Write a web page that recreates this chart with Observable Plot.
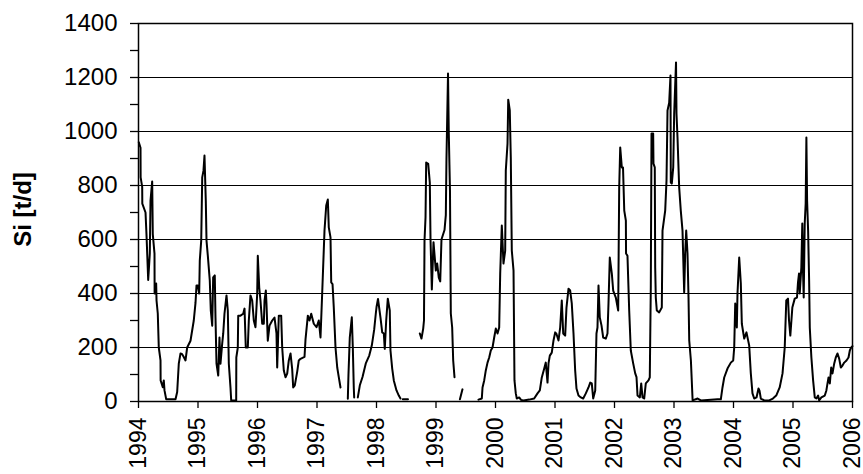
<!DOCTYPE html>
<html><head><meta charset="utf-8">
<script src="https://cdn.jsdelivr.net/npm/d3@7"></script>
<script src="https://cdn.jsdelivr.net/npm/@observablehq/plot@0.6"></script>
<style>body{margin:0;background:#fff;} svg{display:block;}</style>
</head><body><div id="chart"></div>
<script>
// decimal year of each reading (null value = gap in the record)
const time = [
1994.005,1994.034,1994.036,1994.062,1994.064,1994.118,1994.134,1994.163,1994.190,1994.202,1994.230,1994.240,1994.269,1994.271,1994.297,1994.303,1994.324,1994.341,1994.370,1994.372,1994.408,1994.425,1994.437,1994.466,1994.622,1994.650,1994.677,1994.706,1994.734,1994.761,1994.790,1994.818,1994.874,1994.929,1994.958,1994.975,1994.997,
1995.020,1995.030,1995.054,1995.071,1995.092,1995.109,1995.131,1995.143,1995.165,1995.198,1995.215,1995.239,1995.255,1995.282,1995.294,1995.311,1995.340,1995.361,1995.378,1995.407,1995.424,1995.445,1995.479,1995.501,1995.518,1995.546,1995.558,1995.642,1995.644,1995.669,1995.676,1995.714,1995.760,1995.782,1995.803,1995.837,1995.854,1995.882,1995.911,1995.938,1995.966,1995.995,
1996.005,1996.029,1996.050,1996.079,1996.106,1996.118,1996.140,1996.151,1996.173,1996.202,1996.247,1996.286,1996.319,1996.331,1996.358,1996.398,1996.415,1996.442,1996.471,1996.499,1996.526,1996.555,1996.583,1996.600,1996.627,1996.667,1996.694,1996.723,1996.790,1996.807,1996.846,1996.874,1996.903,1996.946,1996.992,
1997.030,1997.059,1997.087,1997.126,1997.155,1997.182,1997.198,1997.227,1997.239,1997.261,1997.282,1997.311,1997.340,1997.366,1997.395,1997.450,1997.518,1997.529,1997.551,1997.585,1997.602,1997.618,1997.625,1997.650,1997.686,1997.720,1997.765,1997.820,1997.878,1997.921,1997.961,1997.988,
1998.000,1998.025,1998.067,1998.096,1998.123,1998.139,1998.163,1998.190,1998.223,1998.235,1998.264,1998.291,1998.336,1998.375,1998.403,1998.420,1998.442,1998.529,1998.600,1998.728,1998.756,1998.785,1998.798,1998.807,1998.824,1998.835,1998.869,1998.896,1998.908,1998.930,1998.958,1998.997,
1999.020,1999.047,1999.071,1999.092,1999.143,1999.165,1999.176,1999.202,1999.215,1999.235,1999.249,1999.272,1999.289,1999.311,1999.350,1999.402,1999.445,1999.600,1999.714,1999.770,1999.782,1999.810,1999.837,1999.866,1999.894,1999.921,1999.950,1999.978,
2000.005,2000.034,2000.062,2000.079,2000.106,2000.134,2000.163,2000.173,2000.202,2000.214,2000.240,2000.257,2000.274,2000.303,2000.319,2000.341,2000.358,2000.398,2000.429,2000.471,2000.567,2000.650,2000.706,2000.745,2000.778,2000.819,2000.845,2000.874,2000.891,2000.913,2000.946,2000.975,
2001.003,2001.025,2001.059,2001.087,2001.114,2001.138,2001.171,2001.193,2001.227,2001.255,2001.282,2001.311,2001.339,2001.361,2001.395,2001.434,2001.474,2001.518,2001.563,2001.592,2001.618,2001.642,2001.676,2001.697,2001.714,2001.731,2001.753,2001.782,2001.810,2001.854,2001.882,2001.899,2001.921,2001.955,2001.978,
2002.022,2002.062,2002.079,2002.096,2002.123,2002.143,2002.164,2002.191,2002.194,2002.218,2002.247,2002.274,2002.314,2002.348,2002.370,2002.387,2002.426,2002.449,2002.471,2002.499,2002.526,2002.571,2002.593,2002.610,2002.622,2002.650,2002.655,2002.677,2002.684,2002.694,2002.711,2002.751,2002.795,2002.807,2002.852,2002.874,2002.891,2002.919,2002.941,2002.946,2002.963,2002.987,
2003.003,2003.034,2003.042,2003.059,2003.087,2003.114,2003.143,2003.171,2003.188,2003.205,2003.227,2003.244,2003.256,2003.284,2003.313,2003.397,2003.452,2003.731,2003.787,2003.815,2003.844,2003.899,2003.955,2003.995,
2004.012,2004.029,2004.056,2004.067,2004.096,2004.123,2004.140,2004.180,2004.218,2004.264,2004.291,2004.319,2004.348,2004.387,2004.420,2004.437,2004.459,2004.516,2004.600,2004.662,2004.718,2004.776,2004.824,2004.861,2004.887,2004.916,2004.933,2004.955,2004.989,
2005.029,2005.067,2005.084,2005.101,2005.113,2005.140,2005.156,2005.168,2005.180,2005.197,2005.213,2005.225,2005.237,2005.254,2005.271,2005.282,2005.309,2005.338,2005.366,2005.393,2005.422,2005.439,2005.477,2005.534,2005.561,2005.580,2005.597,2005.619,2005.642,2005.664,2005.693,2005.719,2005.748,2005.776,2005.804,2005.832,2005.861,2005.899,2005.933,2005.955,2005.978,2006.000
];
// Si load, t/d
const si = [
960,940,830,795,733,700,620,450,548,744,815,620,548,400,437,374,326,200,152,78,53,78,41,8,8,35,140,178,175,165,152,200,225,300,365,430,430,
400,522,596,830,855,911,744,596,540,448,337,281,460,467,311,140,96,237,140,215,252,325,393,337,140,52,4,4,163,200,318,318,325,344,200,200,300,393,374,300,275,400,
540,422,374,288,288,374,411,362,225,281,300,311,252,126,318,318,200,115,90,103,152,178,120,52,60,110,152,158,165,230,318,300,325,288,275,
300,237,400,633,726,748,645,608,441,435,348,200,126,90,52,null,10,100,237,312,200,52,15,null,15,60,91,141,170,207,266,325,
349,380,311,256,252,195,300,381,337,189,122,78,41,22,11,null,8,8,null,252,233,270,300,596,682,885,880,811,600,415,590,485,
511,459,445,600,635,690,900,1215,993,780,326,274,152,90,null,8,45,null,7,11,52,78,115,144,163,189,200,237,
270,252,274,474,652,511,559,855,955,1118,1078,904,559,485,78,30,11,15,6,4,7,11,30,41,89,122,144,70,141,170,181,226,
256,250,226,274,374,252,244,348,418,411,363,252,115,48,22,15,11,30,52,70,67,11,41,252,274,430,311,281,237,233,252,363,533,474,411,
385,337,793,941,867,867,707,670,548,540,337,189,141,104,90,22,15,67,15,11,67,78,89,422,993,993,881,867,496,385,337,330,348,633,707,818,1078,1107,1207,811,807,867,
1066,1256,1066,978,793,707,633,404,548,633,548,385,226,152,4,11,4,8,8,52,89,122,144,152,
200,363,274,400,533,437,288,233,256,207,104,30,11,15,48,40,11,4,4,11,22,52,104,200,374,381,300,244,348,
381,385,441,474,400,496,659,485,385,659,733,978,744,633,448,274,163,78,15,11,22,4,15,22,41,67,89,67,126,104,141,163,178,159,126,133,144,152,163,189,200,205
];
const years = [1994,1995,1996,1997,1998,1999,2000,2001,2002,2003,2004,2005,2006];
const yMajor = [0,200,400,600,800,1000,1200,1400];
const yMinor = [100,300,500,700,900,1100,1300];
const yTitle = "Si [t/d]";

const data = time.map((t, i) => ({t, v: si[i]}));
const font = "'Liberation Sans', Arial, Helvetica, sans-serif";

const chart = Plot.plot({
  width: 863, height: 474,
  marginLeft: 138, marginRight: 11, marginTop: 23, marginBottom: 73,
  style: {fontFamily: font, fontSize: "24px", color: "black", background: "white"},
  x: {domain: [1994, 2006]},
  y: {domain: [0, 1400]},
  marks: [
    Plot.ruleY(yMajor, {stroke: "black", strokeWidth: 1}),
    Plot.line(data, {x: "t", y: "v", stroke: "black", strokeWidth: 2}),
    Plot.frame({stroke: "black", strokeWidth: 1.5}),
    Plot.axisY(yMajor, {tickSize: 8, tickPadding: 13, tickFormat: d => String(d), fontSize: 24, label: null, stroke: "black", strokeWidth: 1.3}),
    Plot.axisY(yMinor, {tickSize: 8, tickFormat: () => "", label: null, stroke: "black", strokeWidth: 1.3}),
    Plot.axisX(years, {tickSize: 7, tickPadding: 9, tickRotate: -90, tickFormat: d => String(d), fontSize: 23, label: null, stroke: "black", strokeWidth: 1.3}),
    Plot.text([yTitle], {text: d => d, frameAnchor: "left", dx: -115, dy: -3, rotate: -90, textAnchor: "middle", fontWeight: "bold", fontSize: 24})
  ]
});
document.getElementById("chart").append(chart);
</script>
</body></html>
